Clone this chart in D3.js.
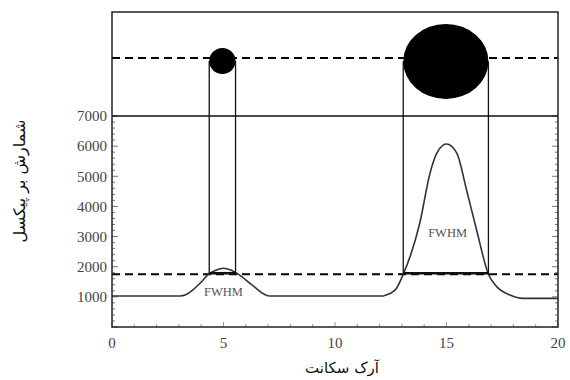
<!DOCTYPE html>
<html>
<head>
<meta charset="utf-8">
<script src="https://cdn.jsdelivr.net/npm/d3@7"></script>
<style>
  body { margin: 0; background: #fff; }
  svg { display: block; }
</style>
</head>
<body>
<svg id="chart" width="570" height="380"></svg>
<script>
// arc seconds along the profile
const bigPeakX = [12.2, 12.7, 13.06, 13.8, 14.26, 14.56, 15.0, 15.46, 15.9, 16.35, 16.88, 17.25, 17.85, 18.43, 20];
const bigPeakY = [1040, 1230, 1750, 3440, 5100, 5760, 6070, 5770, 4545, 3220, 1750, 1340, 1060, 950, 950];

const smallPeakX = [0, 3.08, 3.95, 4.3, 4.65, 5.0, 5.35, 5.71, 6.3, 7.05, 12.2];
const smallPeakY = [1030, 1030, 1450, 1730, 1880, 1950, 1880, 1730, 1380, 1030, 1030];

const halfMaxLevel = 1750;
const upperLevel = 8925;

// FWHM intervals (start, end) and the matching discs in the upper panel
const fwhmStart = [4.36, 13.06];
const fwhmEnd = [5.54, 16.88];
const discY = [8825, 8810];
const discRy = [430, 1245];

const fwhmLabelX = [5.0, 15.05];
const fwhmLabelY = [1180, 3130];

const xTicks = [0, 5, 10, 15, 20];
const yTicks = [1000, 2000, 3000, 4000, 5000, 6000, 7000];
const yTop = 10450;

const serif = '"Liberation Serif", "DejaVu Serif", "Times New Roman", serif';

const svg = d3.select('#chart');
const margin = { left: 112, right: 12, top: 12, bottom: 53 };
const W = 570, H = 380;

const x = d3.scaleLinear().domain([0, 20]).range([margin.left, W - margin.right]);
const y = d3.scaleLinear().domain([0, yTop]).range([H - margin.bottom, margin.top]);

svg.append('rect').attr('width', W).attr('height', H).attr('fill', '#fff');

// minor / major ticks, drawn inside the frame
const tickColor = '#777';
d3.range(0, 7001, 200).forEach(v => {
  const major = v % 1000 === 0;
  const len = major ? 6 : 3;
  svg.append('line')
    .attr('x1', x(0)).attr('x2', x(0) + len)
    .attr('y1', y(v)).attr('y2', y(v))
    .attr('stroke', tickColor).attr('stroke-width', 1);
  svg.append('line')
    .attr('x1', x(20)).attr('x2', x(20) - len)
    .attr('y1', y(v)).attr('y2', y(v))
    .attr('stroke', tickColor).attr('stroke-width', 1);
});
d3.range(0, 21, 1).forEach(v => {
  const len = v % 5 === 0 ? 5 : 3;
  svg.append('line')
    .attr('x1', x(v)).attr('x2', x(v))
    .attr('y1', y(0)).attr('y2', y(0) - len)
    .attr('stroke', '#999').attr('stroke-width', 1);
});

// tick labels
svg.selectAll('.ylab').data(yTicks).enter().append('text')
  .attr('font-family', serif)
  .attr('font-size', 15)
  .attr('fill', '#444')
  .attr('x', x(0) - 5)
  .attr('y', d => y(d))
  .attr('dy', '0.35em')
  .attr('text-anchor', 'end')
  .text(d => d);

svg.selectAll('.xlab').data(xTicks).enter().append('text')
  .attr('font-family', serif)
  .attr('font-size', 15)
  .attr('fill', '#444')
  .attr('x', d => x(d))
  .attr('y', y(0) + 21)
  .attr('text-anchor', 'middle')
  .text(d => d);

// horizontal reference lines
svg.append('line')
  .attr('x1', x(0)).attr('x2', x(20))
  .attr('y1', y(7000)).attr('y2', y(7000))
  .attr('stroke', '#111').attr('stroke-width', 1.3);

[upperLevel, halfMaxLevel].forEach(v => {
  svg.append('line')
    .attr('x1', x(0)).attr('x2', x(20))
    .attr('y1', y(v)).attr('y2', y(v))
    .attr('stroke', '#000').attr('stroke-width', 2)
    .attr('stroke-dasharray', '8,5');
});

// profile curves
const line = d3.line()
  .x(d => x(d[0]))
  .y(d => y(d[1]))
  .curve(d3.curveMonotoneX);

const smallPts = smallPeakX.map((v, i) => [v, smallPeakY[i]]);
const bigPts = bigPeakX.map((v, i) => [v, bigPeakY[i]]);

svg.append('path').datum(smallPts).attr('d', line)
  .attr('fill', 'none').attr('stroke', '#333').attr('stroke-width', 1.6);
svg.append('path').datum(bigPts).attr('d', line)
  .attr('fill', 'none').attr('stroke', '#333').attr('stroke-width', 1.6);

// FWHM boxes: verticals from disc down to half-max, thick base segment
fwhmStart.forEach((s, i) => {
  const e = fwhmEnd[i];
  [s, e].forEach(v => {
    svg.append('line')
      .attr('x1', x(v)).attr('x2', x(v))
      .attr('y1', y(discY[i])).attr('y2', y(halfMaxLevel))
      .attr('stroke', '#111').attr('stroke-width', 1.3);
  });
  svg.append('line')
    .attr('x1', x(s)).attr('x2', x(e))
    .attr('y1', y(halfMaxLevel) - 1).attr('y2', y(halfMaxLevel) - 1)
    .attr('stroke', '#111').attr('stroke-width', 2.6);
  svg.append('ellipse')
    .attr('cx', x((s + e) / 2))
    .attr('cy', y(discY[i]))
    .attr('rx', (x(e) - x(s)) / 2)
    .attr('ry', y(0) - y(discRy[i]))
    .attr('fill', '#000');
});

svg.selectAll('.fwhm').data(fwhmLabelX).enter().append('text')
  .attr('font-family', serif)
  .attr('font-size', 12.5)
  .attr('fill', '#555')
  .attr('x', d => x(d))
  .attr('y', (d, i) => y(fwhmLabelY[i]))
  .attr('dy', '0.35em')
  .attr('text-anchor', 'middle')
  .text('FWHM');

// frame
svg.append('rect')
  .attr('x', x(0)).attr('y', y(yTop))
  .attr('width', x(20) - x(0)).attr('height', y(0) - y(yTop))
  .attr('fill', 'none').attr('stroke', '#222').attr('stroke-width', 1.5);

// axis titles
svg.append('text')
  .attr('font-family', '"DejaVu Sans", serif')
  .attr('font-size', 16)
  .attr('fill', '#111')
  .attr('transform', 'translate(19, 181) rotate(-90)')
  .attr('text-anchor', 'middle')
  .attr('dy', '0.35em')
  .text('شمارش بر پیکسل');

svg.append('text')
  .attr('font-family', '"DejaVu Sans", serif')
  .attr('font-size', 15)
  .attr('fill', '#111')
  .attr('x', (x(0) + x(20)) / 2 + 7)
  .attr('y', 368)
  .attr('text-anchor', 'middle')
  .attr('dy', '0.35em')
  .text('آرک سکانت');
</script>
</body>
</html>
